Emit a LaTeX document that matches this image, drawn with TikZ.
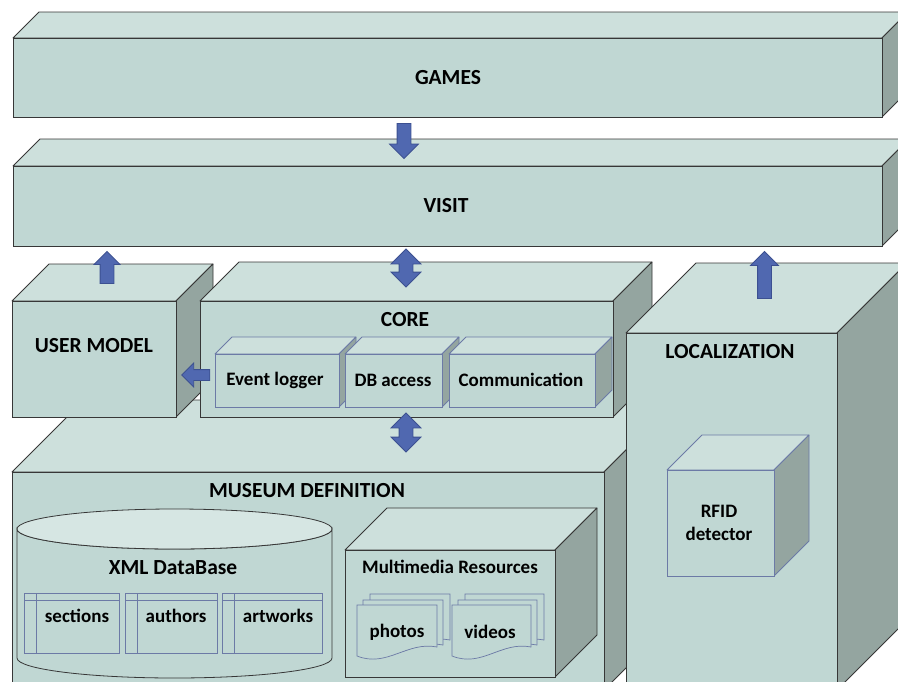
\documentclass[tikz,border=0pt]{standalone}
\usepackage{fontspec}
\setmainfont{Carlito}
\usetikzlibrary{shapes.arrows}
\definecolor{frontc}{RGB}{192,215,211}
\definecolor{topc}{RGB}{205,224,220}
\definecolor{sidec}{RGB}{148,165,160}
\definecolor{edgec}{RGB}{55,55,55}
\definecolor{subedge}{RGB}{108,122,166}
\definecolor{arrowc}{RGB}{80,104,176}
\definecolor{arrowe}{RGB}{60,80,145}
\definecolor{cyltop}{RGB}{214,230,227}
% cuboid: left top right bottom depth edgecolor
\newcommand\cub[6]{%
  \filldraw[fill=topc,draw=#6,line width=0.8pt,line join=round] (#1,#2) -- ({#1+#5},{#2-#5}) -- ({#3+#5},{#2-#5}) -- (#3,#2) -- cycle;
  \filldraw[fill=sidec,draw=#6,line width=0.8pt,line join=round] (#3,#2) -- ({#3+#5},{#2-#5}) -- ({#3+#5},{#4-#5}) -- (#3,#4) -- cycle;
  \filldraw[fill=frontc,draw=#6,line width=0.8pt] (#1,#2) rectangle (#3,#4);
}
% document: left top width rightbottom leftbottom
\newcommand\docpath[5]{%
  \filldraw[fill=frontc,draw=subedge,line width=0.7pt] (#1,#2) -- ({#1+#3},#2) -- ({#1+#3},#4)
    .. controls ({#1+#3-30},{#4-6}) and ({#1+30},{#5+12}) .. (#1,#5) -- cycle;
}
% table: left top right bottom
\newcommand\tablebox[4]{%
  \draw[subedge,line width=0.7pt] (#1,#2) rectangle (#3,#4);
  \draw[subedge,line width=0.7pt] ({#1+12},#2) -- ({#1+12},#4);
  \draw[subedge,line width=0.7pt] (#1,{#2+7}) -- (#3,{#2+7});
}
\begin{document}
\begin{tikzpicture}[x=1pt,y=-1pt,
  lbl/.style={font=\bfseries\fontsize{21.5}{23}\selectfont,inner sep=0pt,text=black},
  sublbl/.style={font=\bfseries\fontsize{19}{21}\selectfont,inner sep=0pt,text=black},
  sarrow/.style={single arrow,draw=arrowe,fill=arrowc,inner xsep=0pt,line width=0.8pt,single arrow tip angle=90},
  darrow/.style={double arrow,draw=arrowe,fill=arrowc,inner xsep=0pt,line width=0.8pt,double arrow tip angle=90}]
\useasboundingbox (0,0) rectangle (898,681);
\clip (0,0) rectangle (898,681);
\fill[white] (0,0) rectangle (898,681);
% layers
\cub{13}{38}{882}{117}{26}{edgec}
\cub{13}{166}{882}{246}{27}{edgec}
\cub{12}{472}{604}{690}{72}{edgec}
\cub{12}{301}{176}{417}{37}{edgec}
\cub{200}{301}{613}{417}{39}{edgec}
\cub{215}{354}{339}{407}{17}{subedge}
\cub{345}{354}{442}{407}{17}{subedge}
\cub{449}{354}{595}{407}{17}{subedge}
\cub{626}{333}{837}{690}{70}{edgec}
\cub{667}{470}{774}{576}{35}{subedge}
\cub{345}{550}{555}{677}{42}{edgec}
% cylinder
\filldraw[fill=frontc,draw=edgec,line width=0.8pt] (17,529) -- (17,658)
  arc[start angle=180,end angle=0,x radius=157.5,y radius=20] -- (332,529)
  arc[start angle=0,end angle=180,x radius=157.5,y radius=20] -- cycle;
\filldraw[fill=cyltop,draw=edgec,line width=0.8pt] (174.5,529) ellipse[x radius=157.5,y radius=20];
\tablebox{24}{593}{119}{653}
\tablebox{125}{593}{217}{653}
\tablebox{222}{593}{322}{653}
% documents
\docpath{370}{594}{80}{640}{648}
\docpath{363}{600}{80}{645}{653}
\docpath{357}{605}{80}{647}{656}
\docpath{465}{594}{79}{640}{648}
\docpath{458}{600}{79}{645}{653}
\docpath{452}{605}{79}{647}{656}
% arrows
\node[sarrow,rotate=-90,minimum height=35,inner ysep=6.5pt,single arrow head extend=7.5] (a1) at (404,137.5) {};
\node[sarrow,rotate=90,minimum height=32,inner ysep=6.5pt,single arrow head extend=6] (a2) at (107,271) {};
\node[darrow,rotate=90,minimum height=38,inner ysep=6.5pt,double arrow head extend=8] (a3) at (406,268) {};
\node[darrow,rotate=90,minimum height=39,inner ysep=6.5pt,double arrow head extend=8] (a4) at (406,432.5) {};
\node[sarrow,rotate=180,minimum height=28,inner ysep=5pt,single arrow head extend=6.5] (a5) at (198.5,375) {};
\node[sarrow,rotate=90,minimum height=47,inner ysep=6.5pt,single arrow head extend=7] (a6) at (764.5,278.5) {};
% labels
\node[lbl] (games) at (448,78) {GAMES};
\node[lbl] (visit) at (446,206) {VISIT};
\node[lbl] (user) at (94,346) {USER MODEL};
\node[lbl] (core) at (405,320) {CORE};
\node[sublbl] (evlog) at (275,380) {Event logger};
\node[sublbl] (dbacc) at (393,380) {DB access};
\node[sublbl] (comm) at (521,380) {Communication};
\node[lbl] (loc) at (730,352) {LOCALIZATION};
\node[lbl] (museum) at (307,491) {MUSEUM DEFINITION};
\node[lbl] (xml) at (173,568) {XML DataBase};
\node[sublbl] (sect) at (77,616) {sections};
\node[sublbl] (auth) at (176,616) {authors};
\node[sublbl] (artw) at (278,616) {artworks};
\node[sublbl] (mmr) at (450,567) {Multimedia Resources};
\node[sublbl] (photos) at (397,632) {photos};
\node[sublbl] (videos) at (490,632) {videos};
\node[sublbl,align=center] (rfid) at (719,523) {RFID\\[2pt]detector};
\end{tikzpicture}
\end{document}
